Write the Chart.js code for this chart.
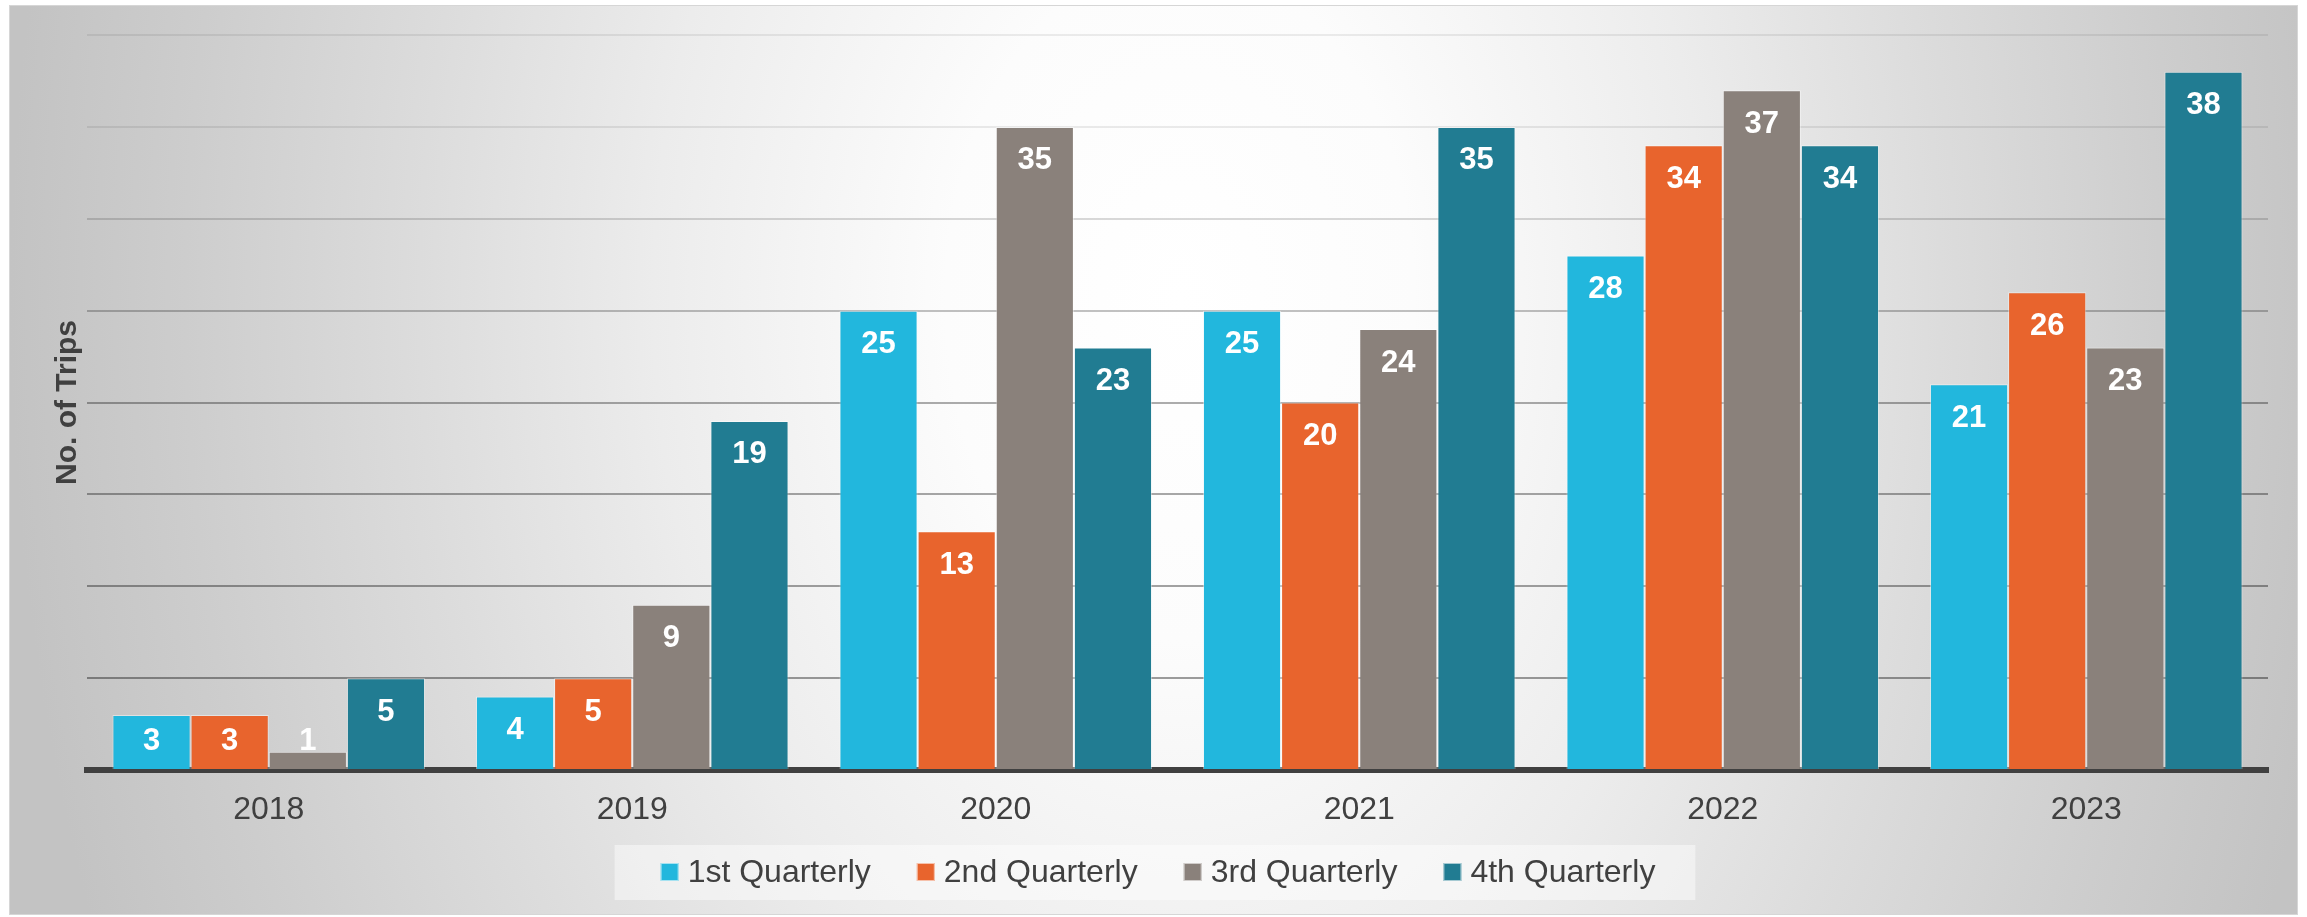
<!DOCTYPE html>
<html>
<head>
<meta charset="utf-8">
<title>No. of Trips by Quarter</title>
<script src="https://cdn.jsdelivr.net/npm/chart.js@4.4.1/dist/chart.umd.min.js"></script>
<style>
  html, body { margin: 0; padding: 0; background: #fff; overflow: hidden; }
  #wrap { position: relative; width: 2307px; height: 917px; }
</style>
</head>
<body>
<div id="wrap"><canvas id="tripsChart"></canvas></div>
<script>
'use strict';

const years = ['2018', '2019', '2020', '2021', '2022', '2023'];
const quarterNames = ['1st Quarterly', '2nd Quarterly', '3rd Quarterly', '4th Quarterly'];
const firstQuarter = [3, 4, 25, 25, 28, 21];
const secondQuarter = [3, 5, 13, 20, 34, 26];
const thirdQuarter = [1, 9, 35, 24, 37, 23];
const fourthQuarter = [5, 19, 23, 35, 34, 38];

const quarterColors = ['#22b7dd', '#e8642d', '#8a817b', '#217c92'];
const textColor = '#404040';
const fontFamily = '"Liberation Sans", Arial, sans-serif';

// gridlines fade out towards the top of the plot
function gridColor(value) {
	const alphas = { 5: 0.38, 10: 0.36, 15: 0.34, 20: 0.32, 25: 0.24, 30: 0.15, 35: 0.08, 40: 0.07 };
	const a = alphas[value] !== undefined ? alphas[value] : 0;
	return `rgba(0, 0, 0, ${a})`;
}

// grey panel with a soft light centre behind the whole chart
const backdrop = {
	id: 'backdrop',
	beforeDraw(chart) {
		const { ctx } = chart;
		const x0 = 9, y0 = 5, w = 2289, h = 910;
		const cx = 1180, cy = 300, rx = 1170, ry = 1700;

		ctx.save();
		ctx.beginPath();
		ctx.rect(x0, y0, w, h);
		ctx.clip();
		ctx.translate(cx, cy);
		ctx.scale(1, ry / rx);
		const g = ctx.createRadialGradient(0, 0, 0, 0, 0, rx);
		g.addColorStop(0, '#ffffff');
		g.addColorStop(0.2, '#fcfcfc');
		g.addColorStop(0.45, '#ececec');
		g.addColorStop(0.65, '#dcdcdc');
		g.addColorStop(0.85, '#cdcdcd');
		g.addColorStop(1, '#c3c3c3');
		ctx.fillStyle = g;
		ctx.fillRect(-cx, -cy * rx / ry - rx, w + 2 * cx, (h + cy) * rx / ry + 2 * rx);
		ctx.restore();

		ctx.save();
		ctx.strokeStyle = '#d6d6d6';
		ctx.lineWidth = 1;
		ctx.strokeRect(x0 + 0.5, y0 + 0.5, w - 1, h - 1);
		ctx.restore();
	},
};

// white value labels near the top of each bar, kept above the axis for short bars
const barValues = {
	id: 'barValues',
	afterDatasetsDraw(chart) {
		const { ctx } = chart;
		ctx.save();
		ctx.font = `bold 31px ${fontFamily}`;
		ctx.fillStyle = '#ffffff';
		ctx.textAlign = 'center';
		ctx.textBaseline = 'middle';
		chart.data.datasets.forEach((dataset, i) => {
			const meta = chart.getDatasetMeta(i);
			meta.data.forEach((bar, j) => {
				const y = Math.min(bar.y + 33, bar.base - 29);
				ctx.fillText(String(dataset.data[j]), bar.x, y + 1);
			});
		});
		ctx.restore();
	},
};

// legend row in a light box under the year labels
const quarterLegend = {
	id: 'quarterLegend',
	afterDraw(chart) {
		const { ctx } = chart;
		const box = 18, gap = 9, spacing = 46, midY = 872;
		ctx.save();
		ctx.font = `32px ${fontFamily}`;
		const items = chart.data.datasets.map((d) => ({
			label: d.label,
			color: d.backgroundColor,
			width: box + gap + ctx.measureText(d.label).width,
		}));
		const total = items.reduce((s, it) => s + it.width, 0) + spacing * (items.length - 1);
		let x = 1158 - total / 2;

		ctx.fillStyle = 'rgba(255, 255, 255, 0.45)';
		ctx.fillRect(x - 46, 845, total + 86, 55);

		ctx.textBaseline = 'middle';
		ctx.textAlign = 'left';
		items.forEach((it) => {
			ctx.fillStyle = it.color;
			ctx.fillRect(x, midY - box / 2, box, box);
			ctx.strokeStyle = 'rgba(255, 255, 255, 0.6)';
			ctx.lineWidth = 1;
			ctx.strokeRect(x + 0.5, midY - box / 2 + 0.5, box - 1, box - 1);
			ctx.fillStyle = textColor;
			ctx.fillText(it.label, x + box + gap, midY + 1);
			x += it.width + spacing;
		});
		ctx.restore();
	},
};

const quarterValues = [firstQuarter, secondQuarter, thirdQuarter, fourthQuarter];

const datasets = quarterValues.map((values, i) => ({
	label: quarterNames[i],
	data: values,
	backgroundColor: quarterColors[i],
	borderColor: 'rgba(255, 255, 255, 0.45)',
	borderWidth: 1,
	categoryPercentage: 0.86,
	barPercentage: 1.0,
}));

const ctx = document.getElementById('tripsChart').getContext('2d');
const tripsChart = new Chart(ctx, {
	type: 'bar',
	data: {
		labels: years,
		datasets: datasets,
	},
	plugins: [backdrop, barValues, quarterLegend],
	options: {
		responsive: true,
		maintainAspectRatio: false,
		animation: false,
		layout: {
			padding: { left: 30, top: 35, right: 39, bottom: 80 },
		},
		plugins: {
			legend: { display: false },
			tooltip: { enabled: false },
		},
		scales: {
			x: {
				afterFit(scale) {
					scale.height = 67;
				},
				grid: { display: false, drawTicks: false },
				border: { display: true, color: '#404040', width: 6 },
				ticks: {
					color: textColor,
					padding: 21,
					font: { family: fontFamily, size: 32 },
				},
			},
			y: {
				min: 0,
				max: 40,
				afterFit(scale) {
					scale.width = 57;
				},
				ticks: { display: false, stepSize: 5 },
				border: { display: false },
				grid: {
					drawTicks: false,
					lineWidth: 2,
					color: (c) => gridColor(c.tick ? c.tick.value : 0),
				},
				title: {
					display: true,
					text: 'No. of Trips',
					color: textColor,
					padding: { top: 20, bottom: 0 },
					font: { family: fontFamily, size: 30, weight: 'bold' },
				},
			},
		},
	},
});
</script>
</body>
</html>
